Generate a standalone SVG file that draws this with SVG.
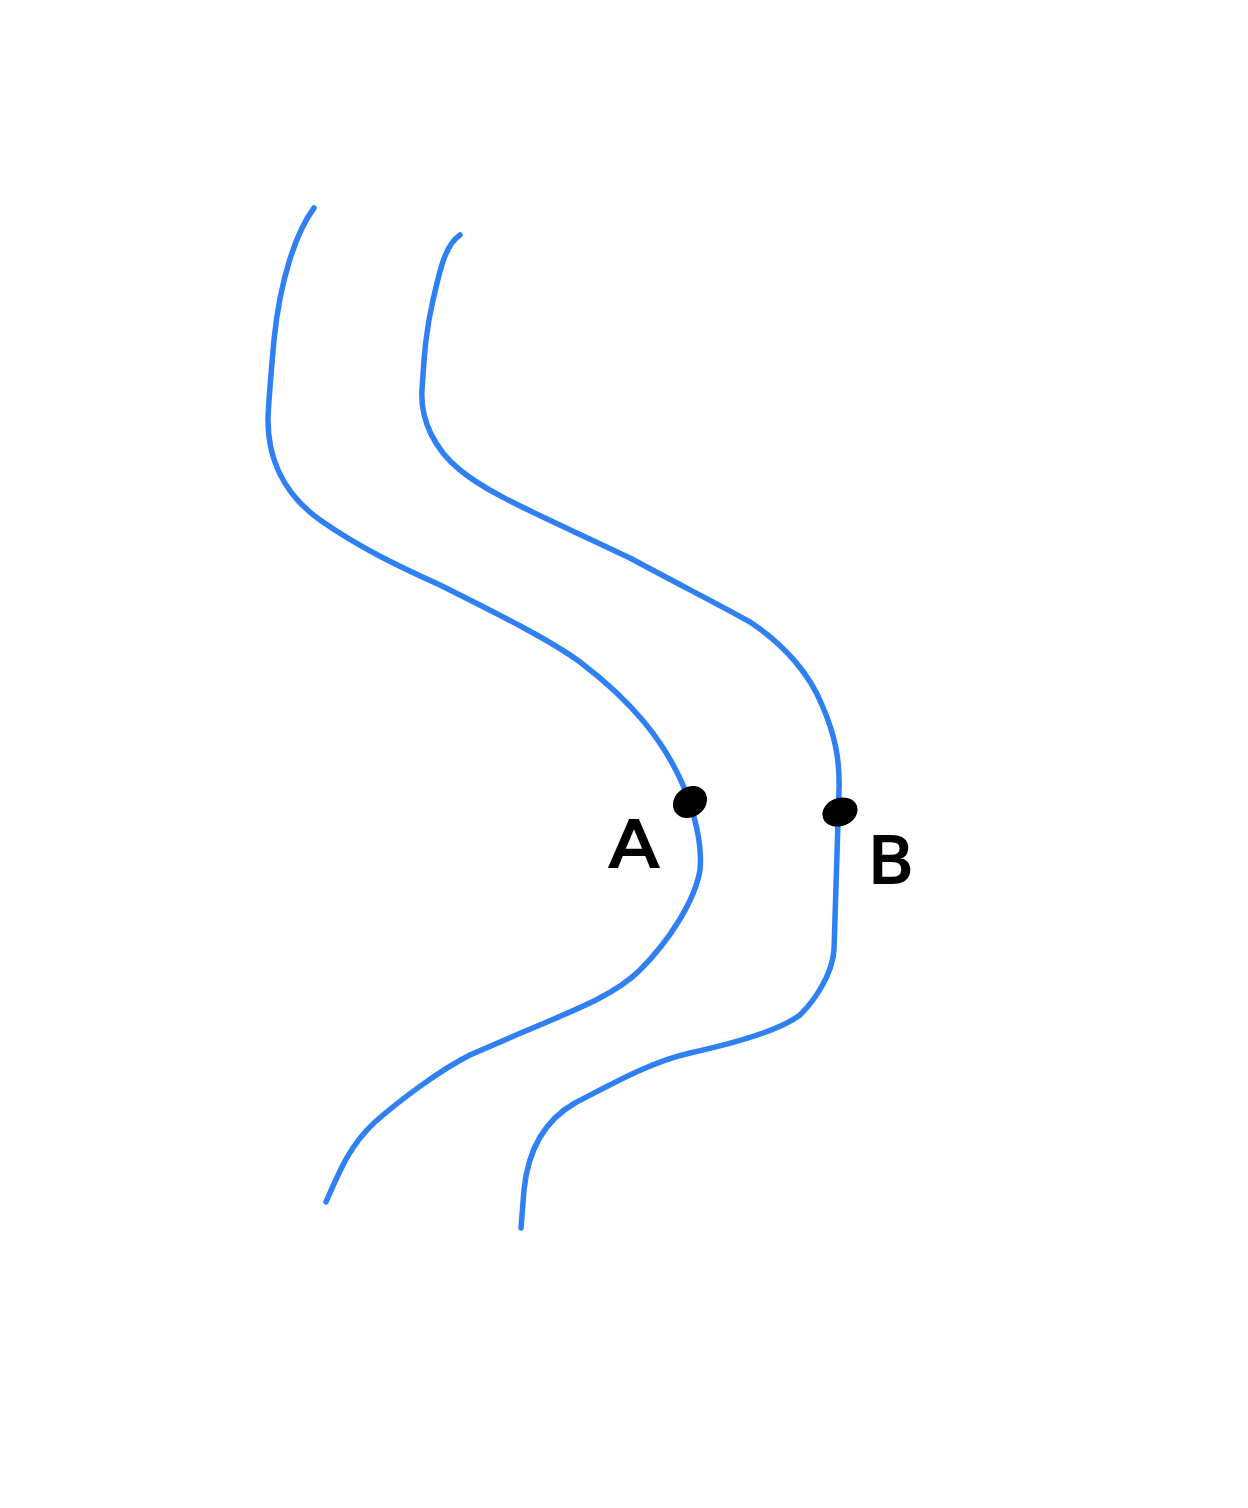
<svg xmlns="http://www.w3.org/2000/svg" width="1248" height="1508" viewBox="0 0 1248 1508">
<style>
.bank{fill:none;stroke:#2f7ff5;stroke-width:5.5;stroke-linecap:round;stroke-linejoin:round}
.dot{fill:#000}
.lbl{font-family:"DejaVu Sans","Liberation Sans",sans-serif;font-size:64px;fill:#000;stroke:#000;stroke-width:2}
</style>
<rect width="1248" height="1508" fill="#fff"/>
<g id="connectors">
<path id="left-bank" class="bank" d="M314,208 C296,232 280,280 274,340 C270,385 268,410 268,420 C268,460 285,495 320,520 C360,548 400,567 440,585 C500,615 550,640 580,662 C630,700 665,740 686,792 C698,825 702,850 700,870 C695,900 670,940 640,970 C610,1000 560,1015 470,1055 C440,1070 400,1100 375,1122 C350,1145 340,1170 326,1202"/>
<path id="right-bank" class="bank" d="M460,235 C445,245 440,270 433,300 C425,335 424,360 422,390 C420,420 435,450 460,470 C490,495 540,515 630,558 C680,585 720,605 750,622 C785,645 810,675 822,705 C835,735 840,760 839,790 L834,950 C832,975 815,1000 800,1015 C780,1030 740,1042 690,1053 C650,1062 610,1085 575,1103 C545,1120 528,1150 524,1190 L521,1228"/>
</g>
<g id="nodeA">
<ellipse class="dot" cx="690" cy="802" rx="18" ry="15" transform="rotate(-35 690 802)"/>
<text class="lbl" x="609" y="867" textLength="50" lengthAdjust="spacingAndGlyphs">A</text>
</g>
<g id="nodeB">
<ellipse class="dot" cx="840" cy="812" rx="18" ry="14" transform="rotate(-20 840 812)"/>
<text class="lbl" x="868" y="883" textLength="46" lengthAdjust="spacingAndGlyphs">B</text>
</g>
</svg>
